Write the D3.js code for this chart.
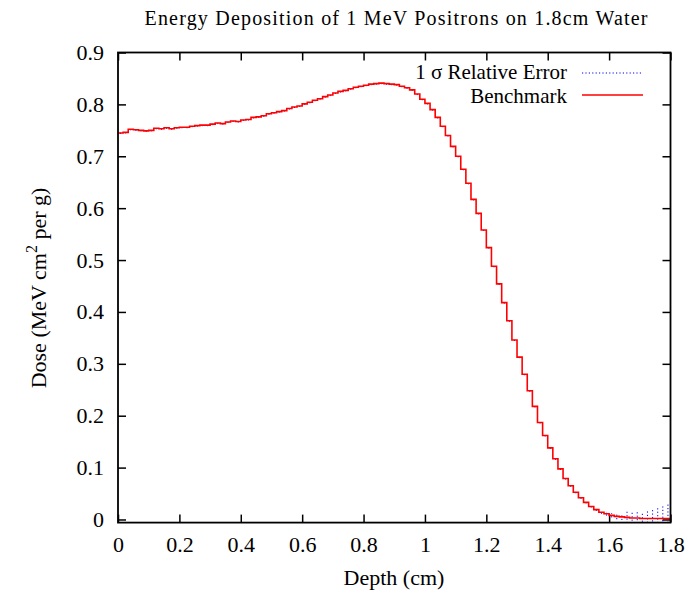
<!DOCTYPE html>
<html lang="en">
<head>
  <meta charset="UTF-8">
  <title>Energy Deposition of 1 MeV Positrons on 1.8cm Water</title>
  <script src="https://d3js.org/d3.v7.min.js"></script>
  <style>
    body { margin: 0; background: #fff; }
    text { font-family: "Liberation Serif", "DejaVu Serif", serif; fill: #000; }
  </style>
</head>
<body>
<div id="chart"></div>
<script>
  // depth bins: 108 equal bins over 0 .. 1.8 cm
  const depthMax = 1.8;
  const nBins = 108;

  // benchmark dose per bin (MeV cm^2 per g)
  const dose = [
    0.745, 0.746, 0.752, 0.751, 0.750, 0.749, 0.750, 0.754, 0.753, 0.755,
    0.753, 0.755, 0.756, 0.756, 0.758, 0.759, 0.760, 0.760, 0.762, 0.764,
    0.763, 0.766, 0.768, 0.767, 0.770, 0.771, 0.775, 0.776, 0.778, 0.782,
    0.784, 0.786, 0.788, 0.792, 0.795, 0.797, 0.801, 0.804, 0.808, 0.811,
    0.815, 0.818, 0.822, 0.825, 0.827, 0.830, 0.833, 0.835, 0.837, 0.839,
    0.840, 0.841, 0.840, 0.839, 0.838, 0.835, 0.832, 0.828, 0.820, 0.810,
    0.802, 0.790, 0.775, 0.758, 0.740, 0.719, 0.700, 0.675, 0.648, 0.617,
    0.590, 0.558, 0.524, 0.488, 0.454, 0.418, 0.383, 0.346, 0.313, 0.280,
    0.248, 0.218, 0.187, 0.162, 0.138, 0.117, 0.0975, 0.079, 0.065, 0.0525,
    0.042, 0.033, 0.025, 0.019, 0.014, 0.011, 0.008, 0.006, 0.005, 0.004,
    0.003, 0.003, 0.002, 0.002, 0.002, 0.002, 0.002, 0.002
  ];

  // 1 sigma error per bin (same units)
  const sigma = [
    0.002, 0.002, 0.002, 0.002, 0.002, 0.002, 0.002, 0.002, 0.002, 0.002,
    0.002, 0.002, 0.002, 0.002, 0.002, 0.002, 0.002, 0.002, 0.002, 0.002,
    0.002, 0.002, 0.002, 0.002, 0.002, 0.002, 0.002, 0.002, 0.002, 0.002,
    0.002, 0.002, 0.002, 0.002, 0.002, 0.002, 0.002, 0.002, 0.002, 0.002,
    0.002, 0.002, 0.002, 0.002, 0.002, 0.002, 0.002, 0.002, 0.002, 0.002,
    0.002, 0.002, 0.002, 0.002, 0.002, 0.002, 0.002, 0.002, 0.002, 0.002,
    0.002, 0.002, 0.002, 0.002, 0.002, 0.002, 0.002, 0.002, 0.002, 0.002,
    0.002, 0.002, 0.002, 0.002, 0.002, 0.002, 0.002, 0.002, 0.002, 0.002,
    0.002, 0.002, 0.002, 0.002, 0.002, 0.002, 0.002, 0.002, 0.002, 0.002,
    0.002, 0.002, 0.002, 0.0025, 0.003, 0.0035, 0.004, 0.0055, 0.006, 0.011,
    0.012, 0.011, 0.013, 0.015, 0.019, 0.022, 0.025, 0.028
  ];

  const xTicks = [0, 0.2, 0.4, 0.6, 0.8, 1, 1.2, 1.4, 1.6, 1.8];
  const yTicks = [0, 0.1, 0.2, 0.3, 0.4, 0.5, 0.6, 0.7, 0.8, 0.9];

  const width = 689, height = 593;
  const plotL = 118, plotR = 670.5, plotT = 52.5, plotB = 522.6;
  const binW = depthMax / nBins;

  const svg = d3.select("#chart").append("svg")
    .attr("width", width)
    .attr("height", height);

  const x = d3.scaleLinear().domain([0, depthMax]).range([plotL, plotR]);
  const y = d3.scaleLinear().domain([-0.006, 0.9]).range([plotB, plotT]);

  svg.append("clipPath").attr("id", "plot-clip")
    .append("rect")
    .attr("x", plotL).attr("y", plotT)
    .attr("width", plotR - plotL).attr("height", plotB - plotT);

  // ticks (inward, mirrored on top and right)
  const tickLen = 8;
  const axisBottom = svg.append("g")
    .attr("transform", "translate(0," + plotB + ")")
    .call(d3.axisBottom(x).tickValues(xTicks).tickSizeInner(-tickLen).tickSizeOuter(0)
      .tickPadding(14).tickFormat(d3.format("")));
  const axisTop = svg.append("g")
    .attr("transform", "translate(0," + plotT + ")")
    .call(d3.axisTop(x).tickValues(xTicks).tickSizeInner(-tickLen).tickSizeOuter(0).tickFormat(""));
  const axisLeft = svg.append("g")
    .attr("transform", "translate(" + plotL + ",0)")
    .call(d3.axisLeft(y).tickValues(yTicks).tickSizeInner(-tickLen).tickSizeOuter(0)
      .tickPadding(14).tickFormat(d3.format("")));
  const axisRight = svg.append("g")
    .attr("transform", "translate(" + plotR + ",0)")
    .call(d3.axisRight(y).tickValues(yTicks).tickSizeInner(-tickLen).tickSizeOuter(0).tickFormat(""));

  [axisBottom, axisTop, axisLeft, axisRight].forEach(function(g) {
    g.select(".domain").remove();
    g.selectAll(".tick line").attr("stroke", "#000").attr("stroke-width", 1.5);
    g.selectAll(".tick text")
      .style("font-family", "'Liberation Serif', serif")
      .style("font-size", "22px")
      .attr("fill", "#000");
  });
  axisBottom.selectAll(".tick text").attr("dy", "0.71em");

  // error bars (dotted blue)
  const plot = svg.append("g").attr("clip-path", "url(#plot-clip)");
  plot.selectAll("line.err")
    .data(dose)
    .enter()
    .append("line")
    .attr("class", "err")
    .attr("x1", function(d, i) { return x((i + 0.5) * binW); })
    .attr("x2", function(d, i) { return x((i + 0.5) * binW); })
    .attr("y1", function(d, i) { return y(d - sigma[i]); })
    .attr("y2", function(d, i) { return y(d + sigma[i]); })
    .attr("stroke", "#0000ff")
    .attr("stroke-width", 1)
    .attr("stroke-dasharray", "1.2,2.2");

  // benchmark histogram steps
  const pts = dose.map(function(d, i) { return [i * binW, d]; });
  pts.push([depthMax, dose[dose.length - 1]]);
  const step = d3.line()
    .x(function(d) { return x(d[0]); })
    .y(function(d) { return y(d[1]); })
    .curve(d3.curveStepAfter);
  plot.append("path")
    .attr("d", step(pts))
    .attr("fill", "none")
    .attr("stroke", "#ff0000")
    .attr("stroke-width", 1.6);

  // frame
  svg.append("rect")
    .attr("x", plotL).attr("y", plotT)
    .attr("width", plotR - plotL).attr("height", plotB - plotT)
    .attr("fill", "none")
    .attr("stroke", "#000")
    .attr("stroke-width", 1.8);

  // title and axis labels
  svg.append("text")
    .attr("x", 396).attr("y", 25)
    .attr("text-anchor", "middle")
    .attr("textLength", 503)
    .attr("lengthAdjust", "spacing")
    .style("font-size", "20px")
    .text("Energy Deposition of 1 MeV Positrons on 1.8cm Water");

  svg.append("text")
    .attr("x", 394).attr("y", 585)
    .attr("text-anchor", "middle")
    .style("font-size", "22px")
    .text("Depth (cm)");

  const yl = svg.append("text")
    .attr("transform", "translate(46,288) rotate(-90)")
    .attr("text-anchor", "middle")
    .style("font-size", "22px");
  yl.append("tspan").text("Dose (MeV cm");
  yl.append("tspan").attr("dy", -9).style("font-size", "16px").text("2");
  yl.append("tspan").attr("dy", 9).text(" per g)");

  // legend
  const legend = [
    { label: "1 \u03c3 Relative Error", color: "#0000ff", dash: "1.2,2.2", width: 1, y: 73, ty: 78.5 },
    { label: "Benchmark", color: "#ff0000", dash: null, width: 1.6, y: 95, ty: 103 }
  ];
  legend.forEach(function(l) {
    svg.append("text")
      .attr("x", 567).attr("y", l.ty)
      .attr("text-anchor", "end")
      .style("font-size", "21px")
      .text(l.label);
    svg.append("line")
      .attr("x1", 582).attr("x2", 643)
      .attr("y1", l.y).attr("y2", l.y)
      .attr("stroke", l.color)
      .attr("stroke-width", l.width)
      .attr("stroke-dasharray", l.dash);
  });
</script>
</body>
</html>
